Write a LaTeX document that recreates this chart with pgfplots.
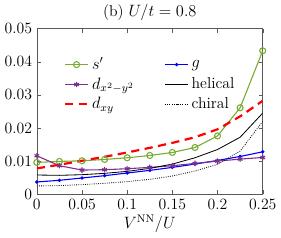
\documentclass[border=0pt]{standalone}
\usepackage{pgfplots}
\pgfplotsset{compat=1.18}
\definecolor{mgreen}{RGB}{119,172,48}
\definecolor{mpurple}{RGB}{126,47,142}
\begin{document}
\begin{tikzpicture}[font=\fontsize{11.5}{14}\selectfont]
\begin{axis}[
  scale only axis, width=165pt, height=121pt,
  xmin=0, xmax=0.25, ymin=0, ymax=0.05,
  scaled x ticks=false, scaled y ticks=false,
  xtick={0,0.05,0.1,0.15,0.2,0.25},
  ytick={0,0.01,0.02,0.03,0.04,0.05},
  xticklabels={0,0.05,0.1,0.15,0.2,0.25},
  yticklabels={0,0.01,0.02,0.03,0.04,0.05},
  tick label style={font=\fontsize{11.5}{14}\selectfont},
  tick align=inside, tick style={gray!70!black},
  axis line style={gray!70!black},
  major tick length=3pt,
  title={(b) $U/t=0.8$}, title style={yshift=-4pt},
  xlabel={$V^{\mathrm{NN}}/U$}, xlabel style={yshift=3pt},
  legend columns=2,
  legend style={draw=none, fill=none, at={(0.1,0.86)}, anchor=north west, font=\fontsize{11.5}{14}\selectfont, row sep=0.5pt,
    /tikz/every even column/.append style={column sep=20pt}},
  legend cell align=left,
]
\addplot[mgreen, thick, mark=o, mark size=2.2pt] coordinates {
(0,0.0096) (0.025,0.0099) (0.05,0.0101) (0.075,0.0105) (0.1,0.0110) (0.125,0.0117) (0.15,0.0126) (0.175,0.0141) (0.2,0.0176) (0.225,0.0261) (0.25,0.0433)};
\addlegendentry{$s'$}
\addplot[blue, thick, mark=*, mark size=0.8pt] coordinates {
(0,0.0037) (0.025,0.0042) (0.05,0.0049) (0.075,0.0056) (0.1,0.0064) (0.125,0.0072) (0.15,0.0081) (0.175,0.0091) (0.2,0.0102) (0.225,0.0114) (0.25,0.0128)};
\addlegendentry{$g$}
\addplot[mpurple, thick, mark=asterisk, mark size=2pt] coordinates {
(0,0.0116) (0.025,0.0086) (0.05,0.0073) (0.075,0.0074) (0.1,0.0077) (0.125,0.0081) (0.15,0.0086) (0.175,0.0093) (0.2,0.0100) (0.225,0.0106) (0.25,0.0111)};
\addlegendentry{$d_{x^2-y^2}$}
\addplot[black, semithick] coordinates {
(0,0.0058) (0.025,0.0057) (0.05,0.0059) (0.075,0.0063) (0.1,0.0069) (0.125,0.0078) (0.15,0.0091) (0.175,0.0110) (0.2,0.0135) (0.225,0.0172) (0.25,0.0245)};
\addlegendentry{helical}
\addplot[red, line width=1.6pt, dash pattern=on 6pt off 4pt] coordinates {
(0,0.0078) (0.025,0.0089) (0.05,0.0101) (0.075,0.0113) (0.1,0.0126) (0.125,0.0140) (0.15,0.0155) (0.175,0.0172) (0.2,0.0196) (0.225,0.0235) (0.25,0.0282)};
\addlegendentry{$d_{xy}$}
\addplot[black, semithick, densely dotted] coordinates {
(0,0.0025) (0.025,0.0026) (0.05,0.0029) (0.075,0.0033) (0.1,0.0038) (0.125,0.0045) (0.15,0.0055) (0.175,0.0070) (0.2,0.0090) (0.225,0.0130) (0.25,0.0220)};
\addlegendentry{chiral}
\end{axis}
\end{tikzpicture}
\end{document}
